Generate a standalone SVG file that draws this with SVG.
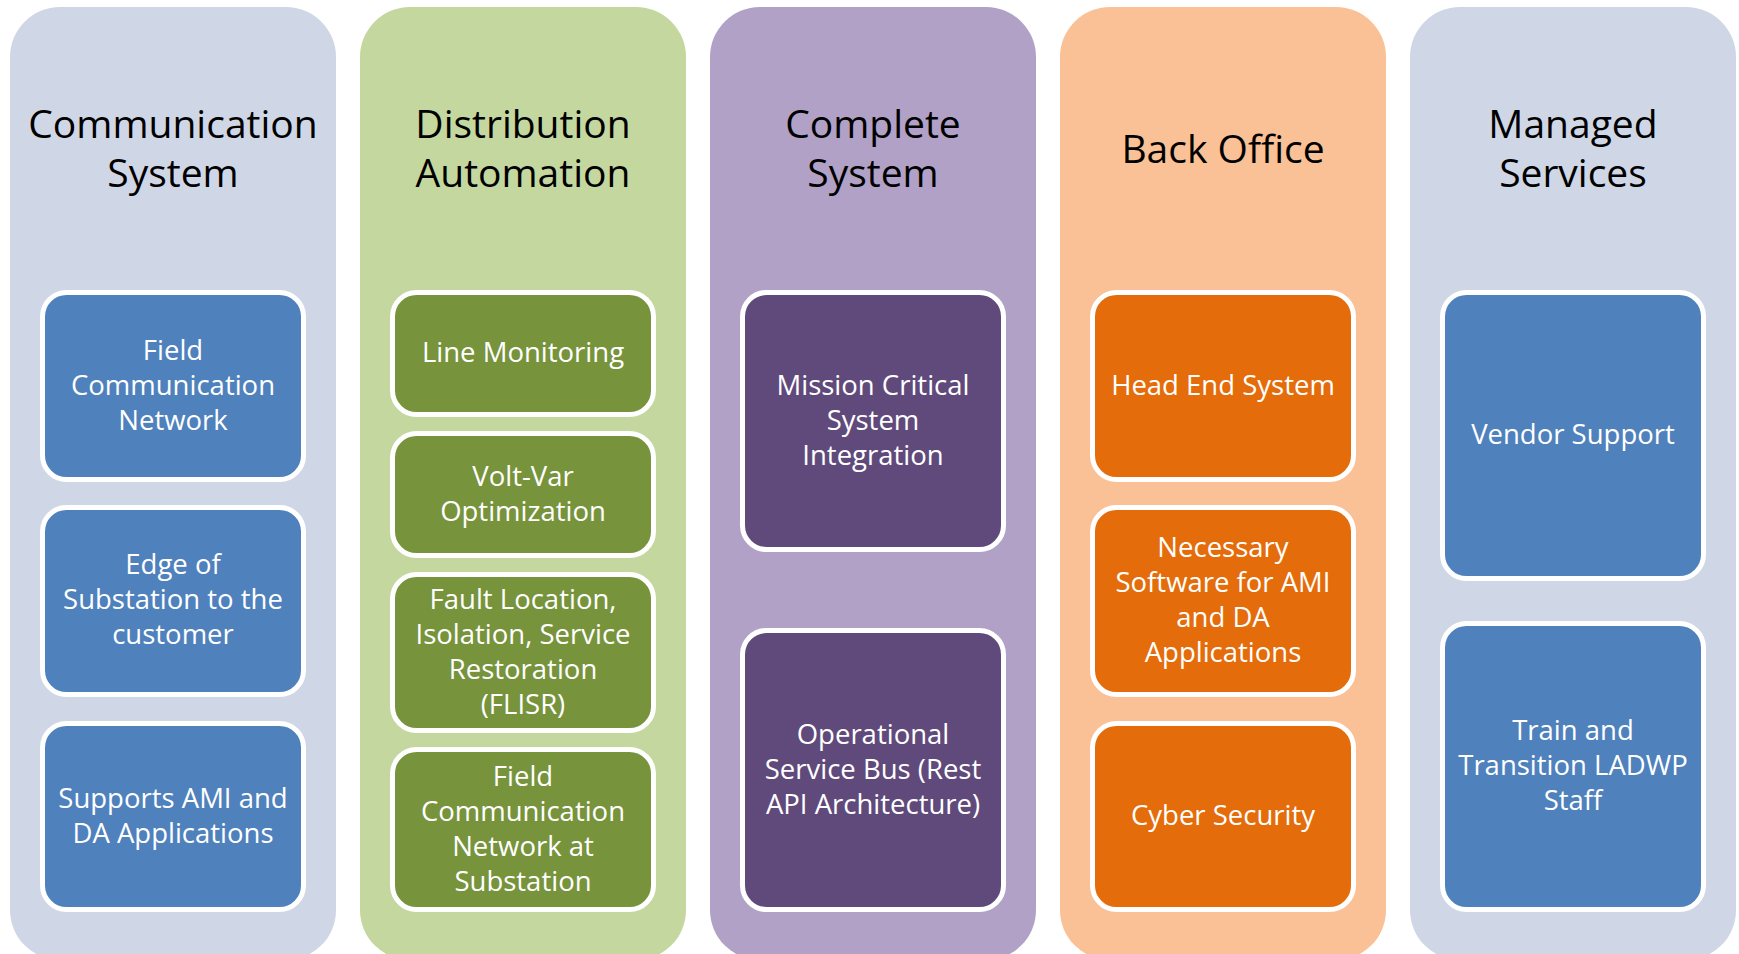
<svg xmlns="http://www.w3.org/2000/svg" width="1739" height="954" viewBox="0 0 1739 954">
<style>
.col{stroke:none}
.c1{fill:#CFD7E6}.c2{fill:#C4D79F}.c3{fill:#B1A1C7}.c4{fill:#F9C195}
.box{stroke:#FFFFFF;stroke-width:5}
.b1{fill:#4F81BD}.b2{fill:#77933C}.b3{fill:#604A7B}.b4{fill:#E46C0A}
.title{font-family:"Open Sans","Noto Sans",sans-serif;font-size:39px;fill:#000000;text-anchor:middle}
.lbl{font-family:"Open Sans","Noto Sans",sans-serif;font-size:27.5px;fill:#FFFFFF;text-anchor:middle}
</style>
<rect width="1739" height="954" fill="#FFFFFF"/>
<g id="col-communication">
<rect class="col c1" x="10" y="7" width="326" height="953" rx="50"/>
<text class="title" x="173" y="138">Communication</text>
<text class="title" x="173" y="187">System</text>
<g id="node-field-comm">
<rect class="box b1" x="42.5" y="292.5" width="261" height="187" rx="24"/>
<text class="lbl" x="173" y="359.5">Field</text>
<text class="lbl" x="173" y="394.5">Communication</text>
<text class="lbl" x="173" y="429.5">Network</text>
</g>
<g id="node-edge">
<rect class="box b1" x="42.5" y="507.5" width="261" height="187" rx="24"/>
<text class="lbl" x="173" y="574">Edge of</text>
<text class="lbl" x="173" y="609">Substation to the</text>
<text class="lbl" x="173" y="644">customer</text>
</g>
<g id="node-supports">
<rect class="box b1" x="42.5" y="723.5" width="261" height="186" rx="24"/>
<text class="lbl" x="173" y="807.5">Supports AMI and</text>
<text class="lbl" x="173" y="842.5">DA Applications</text>
</g>
</g>
<g id="col-distribution">
<rect class="col c2" x="360" y="7" width="326" height="953" rx="50"/>
<text class="title" x="523" y="138">Distribution</text>
<text class="title" x="523" y="187">Automation</text>
<g id="node-line">
<rect class="box b2" x="392.5" y="292.5" width="261" height="122" rx="24"/>
<text class="lbl" x="523" y="362">Line Monitoring</text>
</g>
<g id="node-voltvar">
<rect class="box b2" x="392.5" y="433.5" width="261" height="122" rx="24"/>
<text class="lbl" x="523" y="485.5">Volt-Var</text>
<text class="lbl" x="523" y="520.5">Optimization</text>
</g>
<g id="node-flisr">
<rect class="box b2" x="392.5" y="574.5" width="261" height="156" rx="24"/>
<text class="lbl" x="523" y="608.5">Fault Location,</text>
<text class="lbl" x="523" y="643.5">Isolation, Service</text>
<text class="lbl" x="523" y="678.5">Restoration</text>
<text class="lbl" x="523" y="713.5">(FLISR)</text>
</g>
<g id="node-field-sub">
<rect class="box b2" x="392.5" y="749.5" width="261" height="160" rx="24"/>
<text class="lbl" x="523" y="786">Field</text>
<text class="lbl" x="523" y="821">Communication</text>
<text class="lbl" x="523" y="856">Network at</text>
<text class="lbl" x="523" y="891">Substation</text>
</g>
</g>
<g id="col-complete">
<rect class="col c3" x="710" y="7" width="326" height="953" rx="50"/>
<text class="title" x="873" y="138">Complete</text>
<text class="title" x="873" y="187">System</text>
<g id="node-mission">
<rect class="box b3" x="742.5" y="292.5" width="261" height="257" rx="24"/>
<text class="lbl" x="873" y="394.5">Mission Critical</text>
<text class="lbl" x="873" y="429.5">System</text>
<text class="lbl" x="873" y="464.5">Integration</text>
</g>
<g id="node-osb">
<rect class="box b3" x="742.5" y="630.5" width="261" height="279" rx="24"/>
<text class="lbl" x="873" y="743.5">Operational</text>
<text class="lbl" x="873" y="778.5">Service Bus (Rest</text>
<text class="lbl" x="873" y="813.5">API Architecture)</text>
</g>
</g>
<g id="col-backoffice">
<rect class="col c4" x="1060" y="7" width="326" height="953" rx="50"/>
<text class="title" x="1223" y="163">Back Office</text>
<g id="node-hes">
<rect class="box b4" x="1092.5" y="292.5" width="261" height="187" rx="24"/>
<text class="lbl" x="1223" y="394.5">Head End System</text>
</g>
<g id="node-software">
<rect class="box b4" x="1092.5" y="507.5" width="261" height="187" rx="24"/>
<text class="lbl" x="1223" y="557">Necessary</text>
<text class="lbl" x="1223" y="592">Software for AMI</text>
<text class="lbl" x="1223" y="627">and DA</text>
<text class="lbl" x="1223" y="662">Applications</text>
</g>
<g id="node-cyber">
<rect class="box b4" x="1092.5" y="723.5" width="261" height="186" rx="24"/>
<text class="lbl" x="1223" y="825">Cyber Security</text>
</g>
</g>
<g id="col-managed">
<rect class="col c1" x="1410" y="7" width="326" height="953" rx="50"/>
<text class="title" x="1573" y="138">Managed</text>
<text class="title" x="1573" y="187">Services</text>
<g id="node-vendor">
<rect class="box b1" x="1442.5" y="292.5" width="261" height="286" rx="24"/>
<text class="lbl" x="1573" y="444">Vendor Support</text>
</g>
<g id="node-train">
<rect class="box b1" x="1442.5" y="623.5" width="261" height="286" rx="24"/>
<text class="lbl" x="1573" y="740">Train and</text>
<text class="lbl" x="1573" y="775">Transition LADWP</text>
<text class="lbl" x="1573" y="810">Staff</text>
</g>
</g>
<g id="connectors"/>
</svg>
